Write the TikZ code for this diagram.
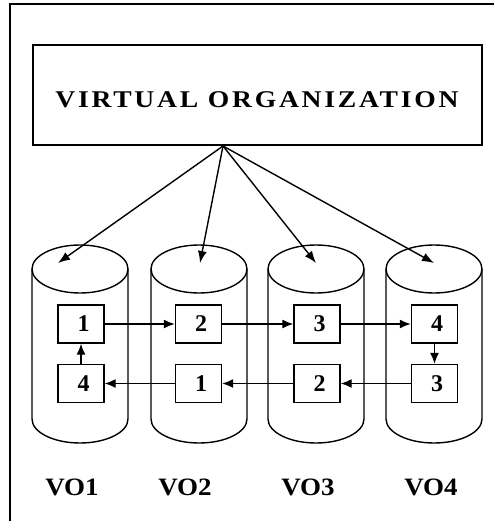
\documentclass[tikz,border=0pt]{standalone}
\usepackage{fontspec}
\setmainfont{Liberation Serif}
\usetikzlibrary{arrows.meta}
\newcommand{\dg}[1]{\hspace*{5pt}#1}
\begin{document}
\begin{tikzpicture}[x=1pt,y=-1pt,
  frame/.style={line width=1.8pt},
  cyl/.style={line width=1.4pt},
  numbox/.style={draw,line width=1.4pt,minimum width=46pt,minimum height=38pt,inner sep=0pt,font=\fontsize{24}{24}\selectfont\bfseries},
  volabel/.style={font=\fontsize{25}{25}\selectfont\bfseries,inner sep=0pt,xscale=1.08},
  arr/.style={line width=1.4pt,-{Latex[length=12pt,width=9pt]}},
  sarr/.style={line width=1.4pt,-{Latex[length=11pt,width=9pt]}}]
\useasboundingbox (0,0) rectangle (494,521);
% outer frame (cropped at right and bottom)
\draw[frame] (10,521) -- (10,4) -- (494,4);
% title box
\node[draw,frame,minimum width=449pt,minimum height=100pt,inner sep=0pt] (vo) at (257.5,95) {};
\node[font=\fontsize{24}{24}\selectfont\bfseries\addfontfeature{LetterSpace=10},inner sep=0pt,xscale=1.15] (title) at (257,100) {VIRTUAL ORGANIZATION};
\coordinate (src) at (223,146);
% cylinders
\foreach \cx/\n in {80/1,199/2,316/3,434/4}{
  \draw[cyl] (\cx,269) ellipse [x radius=48, y radius=24];
  \draw[cyl] (\cx-48,269) -- (\cx-48,419) arc[start angle=180,end angle=360,x radius=48,y radius=-24] -- (\cx+48,269);
}
% arrow tips
\coordinate (t1) at (58,263);
\coordinate (t2) at (200,263);
\coordinate (t3) at (316,263);
\coordinate (t4) at (434,263);
\foreach \i in {1,2,3,4}{\draw[arr] (src) -- (t\i);}
% number boxes
\node[numbox] (a1) at (81,324) {\dg{1}};
\node[numbox] (a2) at (198.5,324) {\dg{2}};
\node[numbox] (a3) at (317,324) {\dg{3}};
\node[numbox] (a4) at (434.5,324) {\dg{4}};
\node[numbox] (b1) at (81,383.5) {\dg{4}};
\node[numbox] (b2) at (198.5,383.5) {\dg{1}};
\node[numbox] (b3) at (317,383.5) {\dg{2}};
\node[numbox] (b4) at (434.5,383.5) {\dg{3}};
\draw[sarr] (a1) -- (a2);
\draw[sarr] (a2) -- (a3);
\draw[sarr] (a3) -- (a4);
\draw[sarr] (a4) -- (b4);
\draw[sarr] (b4) -- (b3);
\draw[sarr] (b3) -- (b2);
\draw[sarr] (b2) -- (b1);
\draw[sarr] (b1) -- (a1);
% labels
\node[volabel] (l1) at (72,487) {VO1};
\node[volabel] (l2) at (185,487) {VO2};
\node[volabel] (l3) at (308,487) {VO3};
\node[volabel] (l4) at (431,487) {VO4};
\end{tikzpicture}
\end{document}
